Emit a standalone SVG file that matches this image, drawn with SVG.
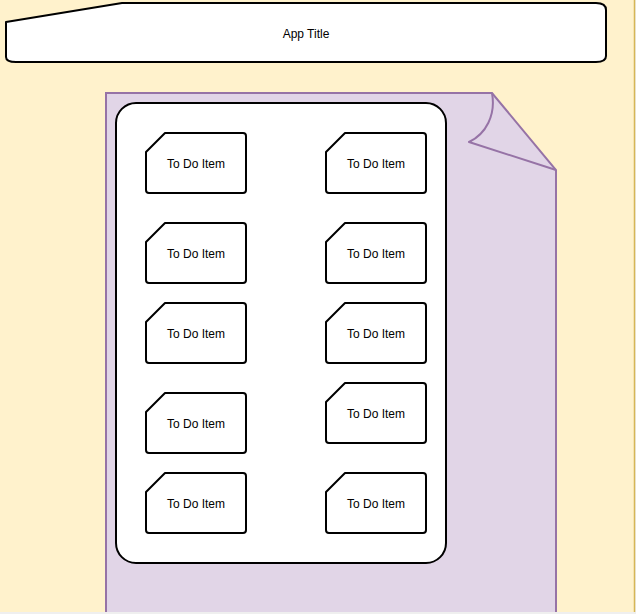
<svg xmlns="http://www.w3.org/2000/svg" width="636" height="614" viewBox="0 0 636 614">
<defs>
<style>
.card{fill:#ffffff;stroke:#000000;stroke-width:2;stroke-linejoin:round}
.lbl{font-family:"Liberation Sans",Arial,sans-serif;font-size:12px;fill:#000000;text-anchor:middle;dominant-baseline:central}
</style>
<path id="cardShape" d="M0,19 L19,0 L97,0 Q100,0 100,3 L100,57 Q100,60 97,60 L3,60 Q0,60 0,57 Z"/>
</defs>
<rect x="0" y="0" width="636" height="614" fill="#efefef"/>
<rect x="0" y="0" width="635" height="612" fill="#fff2cc"/>
<line x1="634.5" y1="0" x2="634.5" y2="612" stroke="#d6b656" stroke-width="1.5"/>

<g id="page">
<path d="M106,93 L492,93 L556,170 L556,630 L106,630 Z" fill="#e1d5e7" stroke="#9673a6" stroke-width="2"/>
<path d="M492,93 C496,115 486,134 469,142 L556,170" fill="none" stroke="#9673a6" stroke-width="2" stroke-linejoin="round"/>
</g>

<g id="title">
<path d="M6,22 L122,3 L596,3 Q606,3 606,10 L606,56 Q606,62 596,62 L16,62 Q6,62 6,57 Z" fill="#ffffff" stroke="#000000" stroke-width="2" stroke-linejoin="round"/>
<text class="lbl" x="306" y="34">App Title</text>
</g>

<g id="list">
<rect x="116" y="103" width="330" height="460" rx="20" ry="20" fill="#ffffff" stroke="#000000" stroke-width="2"/>
</g>

<g id="item1"><use href="#cardShape" class="card" x="146" y="133"/><text class="lbl" x="196" y="164">To Do Item</text></g>
<g id="item2"><use href="#cardShape" class="card" x="326" y="133"/><text class="lbl" x="376" y="164">To Do Item</text></g>
<g id="item3"><use href="#cardShape" class="card" x="146" y="223"/><text class="lbl" x="196" y="254">To Do Item</text></g>
<g id="item4"><use href="#cardShape" class="card" x="326" y="223"/><text class="lbl" x="376" y="254">To Do Item</text></g>
<g id="item5"><use href="#cardShape" class="card" x="146" y="303"/><text class="lbl" x="196" y="334">To Do Item</text></g>
<g id="item6"><use href="#cardShape" class="card" x="326" y="303"/><text class="lbl" x="376" y="334">To Do Item</text></g>
<g id="item7"><use href="#cardShape" class="card" x="146" y="393"/><text class="lbl" x="196" y="424">To Do Item</text></g>
<g id="item8"><use href="#cardShape" class="card" x="326" y="383"/><text class="lbl" x="376" y="414">To Do Item</text></g>
<g id="item9"><use href="#cardShape" class="card" x="146" y="473"/><text class="lbl" x="196" y="504">To Do Item</text></g>
<g id="item10"><use href="#cardShape" class="card" x="326" y="473"/><text class="lbl" x="376" y="504">To Do Item</text></g>

<g id="connectors"></g>
<rect x="0" y="612" width="636" height="2" fill="#efefef"/>
</svg>
